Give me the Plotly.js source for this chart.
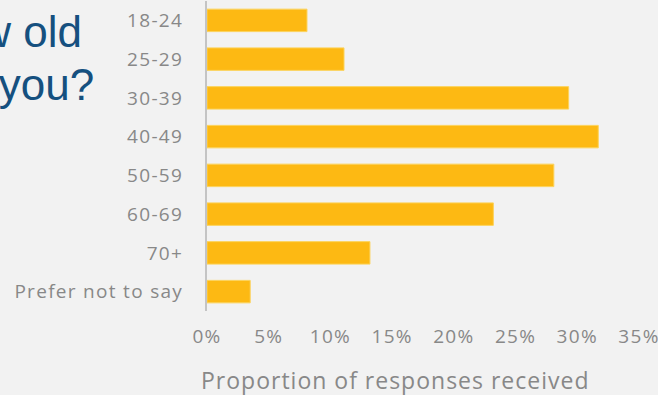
<!DOCTYPE html>
<html>
<head>
<meta charset="utf-8">
<script src="https://cdn.plot.ly/plotly-3.0.1.min.js"></script>
<style>
html,body{margin:0;padding:0;background:#f2f2f2;overflow:hidden}
#chart{width:658px;height:395px}
.xtick text,.ytick text{letter-spacing:1.3px}
g.annotation[data-index="2"] text{letter-spacing:1px}
</style>
</head>
<body>
<div id="chart"></div>
<script>
const categories = ["18-24","25-29","30-39","40-49","50-59","60-69","70+","Prefer not to say"];
const values = [8.1, 11.1, 29.3, 31.7, 28.1, 23.2, 13.2, 3.5];
const tickVals = [0,5,10,15,20,25,30,35];
const tickText = ["0%","5%","10%","15%","20%","25%","30%","35%"];
const titleLines = ["How old", "are you?"];
const xTitle = "Proportion of responses received";

const gray = "#888888";
const trace = {
  type: "bar",
  orientation: "h",
  y: categories,
  x: values,
  marker: {color: "#fdb913", line: {color: "#fcd35a", width: 1}},
  hoverinfo: "none"
};
const layout = {
  width: 658, height: 395,
  paper_bgcolor: "#f2f2f2", plot_bgcolor: "#f2f2f2",
  margin: {l: 207, r: 19, t: 1, b: 84},
  bargap: 0.42,
  showlegend: false,
  font: {family: "Open Sans, sans-serif", color: gray},
  xaxis: {
    range: [0, 35], tickvals: tickVals, ticktext: tickText,
    showgrid: false, zeroline: false, showline: false, ticklabeloverflow: "allow",
    tickfont: {size: 19, color: gray}, ticks: "", ticklabelstandoff: 12
  },
  yaxis: {
    autorange: "reversed", showgrid: false, zeroline: false,
    showline: true, linecolor: "#c4c4c4", linewidth: 2,
    tickfont: {size: 19, color: gray}, ticks: "", ticklabelstandoff: 18
  },
  annotations: [
    {xref: "paper", yref: "paper", x: -0.662, y: 1, yanchor: "top", xanchor: "left", align: "left",
     text: titleLines[0], showarrow: false, font: {family: "Liberation Sans, Arial, sans-serif", size: 44, color: "#15507f"}, yshift: -4},
    {xref: "paper", yref: "paper", x: -0.662, y: 1, yanchor: "top", xanchor: "left", align: "left",
     text: titleLines[1], showarrow: false, font: {family: "Liberation Sans, Arial, sans-serif", size: 44, color: "#15507f"}, yshift: -57},
    {xref: "paper", yref: "paper", x: (395 - 207) / 432, y: 0, yanchor: "top", xanchor: "center",
     text: xTitle, showarrow: false, font: {size: 23, color: gray}, yshift: -51}
  ]
};
Plotly.newPlot("chart", [trace], layout, {displayModeBar: false, staticPlot: true});
</script>
</body>
</html>
